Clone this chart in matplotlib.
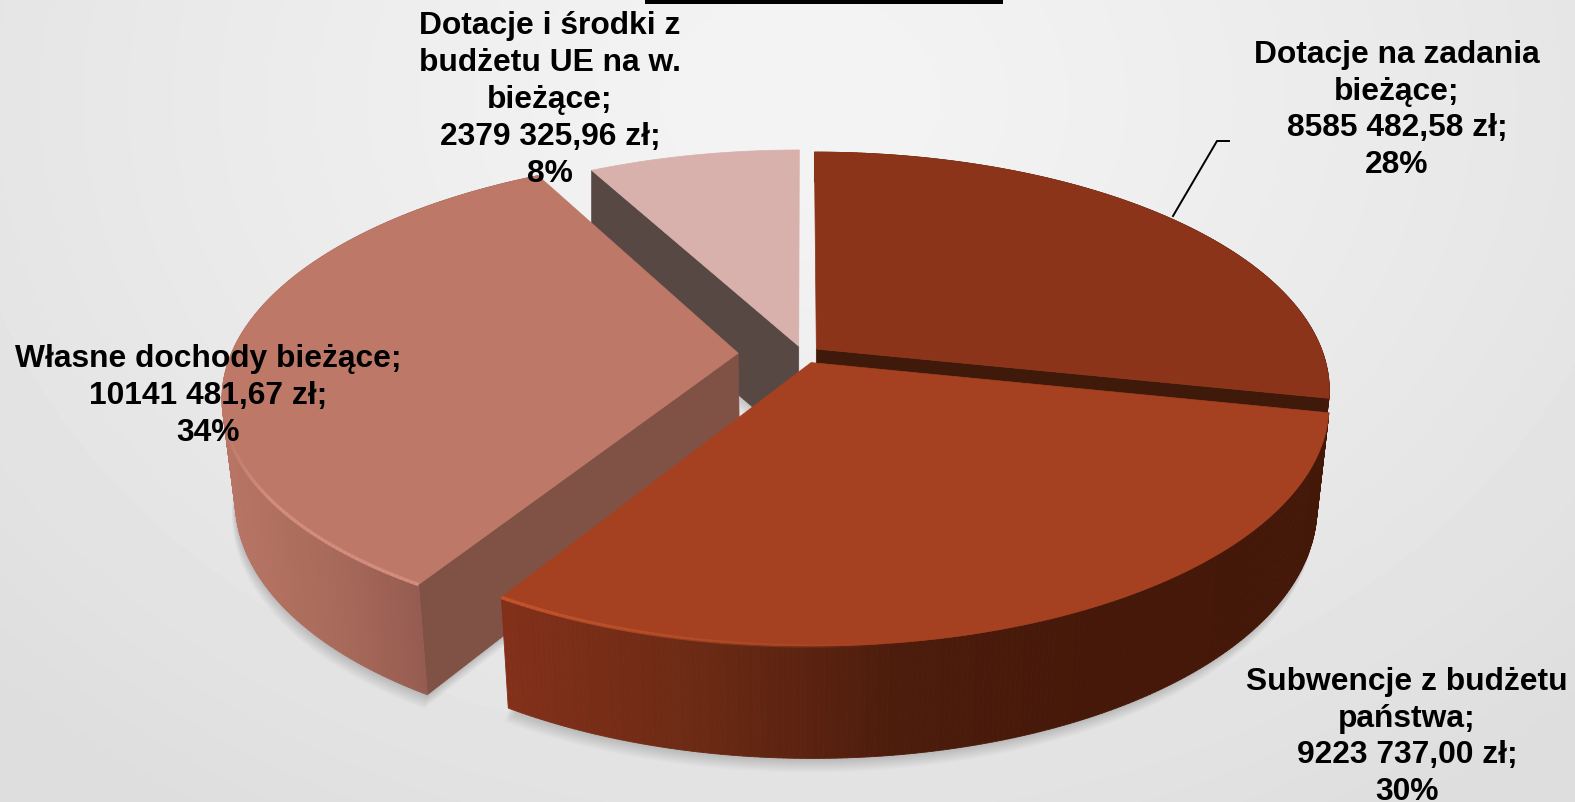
import numpy as np
import matplotlib
matplotlib.use("Agg")
import matplotlib.pyplot as plt
from matplotlib.colors import LinearSegmentedColormap, to_rgb
from matplotlib.collections import PolyCollection, LineCollection
from matplotlib.patches import Polygon, Rectangle

plt.rcParams['font.family'] = ['Liberation Sans', 'DejaVu Sans']

names = ["Dotacje na zadania\nbieżące;", "Subwencje z budżetu\npaństwa;",
         "Własne dochody bieżące;", "Dotacje i środki z\nbudżetu UE na w.\nbieżące;"]
values = [8585482.58, 9223737.00, 10141481.67, 2379325.96]
value_labels = ["8585 482,58 zł;", "9223 737,00 zł;", "10141 481,67 zł;", "2379 325,96 zł;"]
percent_labels = ["28%", "30%", "34%", "8%"]

top_colors = ["#8b3419", "#a54120", "#bd7868", "#d8b0ac"]
face_colors = ["#3f1a0a", "#3f1a0a", "#805245", "#584844"]
wall_stops = [
    [(800, "#6a2812"), (1330, "#451809")],
    [(500, "#83301a"), (700, "#6b2a14"), (900, "#4c1c0c"), (1100, "#451809"), (1330, "#441808")],
    [(220, "#b87565"), (330, "#a86a5a"), (430, "#945a50")],
    [(590, "#584844"), (800, "#584844")],
]
explode = [0.034, 0.04, 0.128, 0.035]
# slice 1 only shows a thin band, the front slice hides the rest of it
depth = [0.3, 1, 1, 1]
visible_face = [-1, None, 0, 0]
label_pos = [(1397, 110), (1407, 737), (208, 396), (550, 100)]
highlight = ["#8b3419", "#c4552e", "#d48c7c", "#d8b0ac"]

# projection of the tilted pie, in pixels
cx, cy = 803, 355
A, B, k = 507, 232, 0.17


def project(X, Y):
    s = 1 / (1 + k * Y)
    return cx + A * X * s, cy - B * Y * s


def drop(x, y, Y, f):
    # lower rim: a bit thicker towards the viewer and narrower
    h = (100 + 12 * np.clip(-Y, 0, None)) * f
    shrink = 1 - 0.023 * f * np.clip(1 - 2 * Y, 0, 1)
    return cx + (x - cx) * shrink, y + h


def wall_color(stops, x):
    xs = [p[0] for p in stops]
    rgb = np.array([to_rgb(p[1]) for p in stops])
    return [np.interp(x, xs, rgb[:, i]) for i in range(3)]


fig = plt.figure(figsize=(15.75, 8.03), dpi=100)
ax = fig.add_axes([0, 0, 1, 1])
ax.set_xlim(0, 1575)
ax.set_ylim(803, 0)
ax.axis("off")

# background
yy, xx = np.mgrid[0:803, 0:1575]
r = np.sqrt(((xx - 800) / 1100) ** 2 + ((yy - 100) / 850) ** 2)
bg = 0.955 - 0.085 * np.clip(r, 0, 1) ** 1.3
bg_cmap = LinearSegmentedColormap.from_list("bg", ["#000000", "#ffffff"])
ax.imshow(bg, cmap=bg_cmap, vmin=0, vmax=1, extent=(0, 1575, 803, 0), aspect="auto", zorder=0)

edges = np.concatenate([[0], np.cumsum(values)]) / np.sum(values) * 2 * np.pi
mids = (edges[:-1] + edges[1:]) / 2

slices = []
for i in range(4):
    t = np.linspace(edges[i], edges[i + 1], 200)
    ex, ey = explode[i] * np.sin(mids[i]), explode[i] * np.cos(mids[i])
    X, Y = np.sin(t) + ex, np.cos(t) + ey
    x, y = project(X, Y)
    xb, yb = drop(x, y, Y, depth[i])
    ax0, ay0 = project(ex, ey)
    bx0, by0 = drop(ax0, ay0, ey, depth[i])
    slices.append((x, y, xb, yb, ax0, ay0, bx0, by0))

# soft shadow under the pie
for i in [3, 2, 1]:
    x, y, xb, yb, ax0, ay0, bx0, by0 = slices[i]
    outline = np.column_stack([np.r_[bx0, xb], np.r_[by0, yb]])
    for d in range(1, 15):
        ax.add_patch(Polygon(outline + [-d * 0.25, d], closed=True, fc="black", ec="none",
                             alpha=0.012, zorder=1))

# far slices first, the front one last
for z, i in enumerate([3, 0, 2, 1]):
    x, y, xb, yb, ax0, ay0, bx0, by0 = slices[i]
    zo = 2 + z
    j = visible_face[i]
    if j is not None:
        ax.add_patch(Polygon([(ax0, ay0), (x[j], y[j]), (xb[j], yb[j]), (bx0, by0)], closed=True,
                             fc=face_colors[i], ec=face_colors[i], lw=0.5, zorder=zo))
    if i != 3:
        quads = [[(x[n], y[n]), (x[n + 1], y[n + 1]), (xb[n + 1], yb[n + 1]), (xb[n], yb[n])]
                 for n in range(len(x) - 1)]
        cols = [wall_color(wall_stops[i], (x[n] + x[n + 1]) / 2) for n in range(len(x) - 1)]
        ax.add_collection(PolyCollection(quads, facecolors=cols, edgecolors=cols, linewidths=0.6, zorder=zo))
    ax.add_patch(Polygon(np.column_stack([np.r_[ax0, x], np.r_[ay0, y]]), closed=True,
                         fc=top_colors[i], ec=top_colors[i], lw=0.5, zorder=zo))
    # bevel on the front rim
    if i in (1, 2):
        segs = [[(x[n], y[n]), (x[n + 1], y[n + 1])] for n in range(len(x) - 1)]
        rgb = to_rgb(highlight[i])
        if i == 1:
            alpha = np.clip((900 - x[:-1]) / 400, 0, 1)
        else:
            alpha = np.clip((y[:-1] - 430) / 70, 0, 1)
        ax.add_collection(LineCollection(segs, colors=[(*rgb, a) for a in alpha], linewidths=2.5, zorder=zo))

# bar left from the slide title
ax.add_patch(Rectangle((645, 0), 358, 4.5, fc="black", ec="none", zorder=8))

# leader line
ax.plot([1173, 1217, 1229], [217, 142, 142], color="black", lw=1.4, zorder=8, solid_joinstyle="miter")

for i in range(4):
    txt = names[i] + "\n" + value_labels[i] + "\n" + percent_labels[i]
    ax.text(label_pos[i][0], label_pos[i][1], txt, ha="center", va="center", fontsize=22.9,
            fontweight="bold", color="black", linespacing=1.3, zorder=9)

fig.savefig("out.png", dpi=100)
